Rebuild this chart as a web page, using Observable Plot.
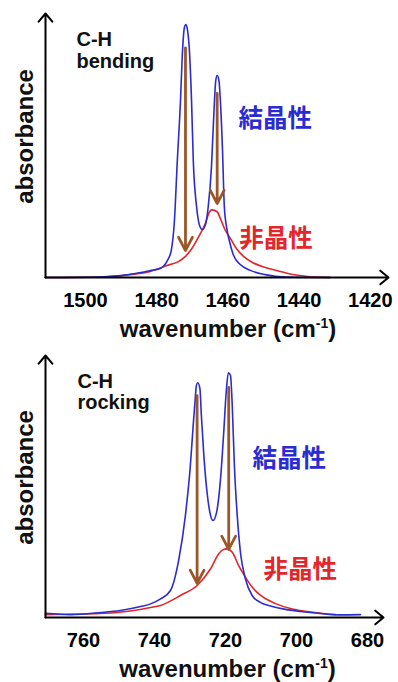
<!DOCTYPE html>
<html>
<head>
<meta charset="utf-8">
<script src="https://cdn.jsdelivr.net/npm/d3@7"></script>
<script src="https://cdn.jsdelivr.net/npm/@observablehq/plot@0.6"></script>
<style>
  html, body { margin: 0; padding: 0; background: #fff; }
  #chart { width: 398px; }
  #chart svg { display: block; }
</style>
</head>
<body>
<div id="chart"></div>
<script>
// ---------- C-H bending panel ----------
const bendTicks = [1500, 1480, 1460, 1440, 1420];
const bendDomain = [1511.2, 1414.9];
const bendCrystW = [1511.2, 1496, 1490, 1486, 1481.8, 1479, 1477, 1475.9, 1475, 1474.2, 1473.3, 1472.8, 1472.2, 1471.8, 1471.4, 1470.8, 1470.2, 1469.7, 1468.8, 1468, 1467.2, 1466.3, 1465.5, 1464.6, 1463.9, 1463.4, 1463, 1462.5, 1462.1, 1461.5, 1461, 1460.3, 1459.6, 1458.5, 1456.5, 1453.7, 1449.5, 1443.9, 1431.2];
const bendCrystA = [0, 0.2, 0.7, 1.5, 2.6, 3.4, 6.4, 10.2, 21.6, 44, 67, 84, 94.7, 95.8, 94.3, 86, 67, 44, 27, 20, 18.2, 20, 27, 42, 63, 74.6, 76.5, 74.6, 67, 48, 27, 18.6, 14, 8.7, 4.9, 2.7, 1.1, 0.2, 0];
const bendAmorW = [1511.2, 1495.8, 1487.4, 1481.8, 1477.5, 1473.9, 1471.9, 1470.5, 1467.7, 1466.3, 1465.4, 1464.5, 1463, 1462.1, 1460.7, 1459.3, 1457.6, 1455.6, 1453.1, 1449.5, 1445.8, 1442.5, 1438.2, 1431.2];
const bendAmorA = [0, 0.2, 1.1, 2.3, 4.4, 6, 8, 10.2, 16.7, 20.5, 24.2, 25.6, 24.9, 22.3, 17.8, 14.8, 11, 8, 5.7, 3.8, 2.5, 1.3, 0.5, 0];
const bendShifts = [
  {w: 1471.9, from: 87, to: 10.2},
  {w: 1463.0, from: 69.7, to: 28}
];

// ---------- C-H rocking panel ----------
const rockTicks = [760, 740, 720, 700, 680];
const rockDomain = [770.7, 675.5];
const rockCrystW = [770.7, 763.7, 755.2, 749.6, 743.9, 741.1, 738.3, 735.5, 733.2, 731.3, 729.9, 729.1, 728.6, 728.2, 727.8, 727.2, 726.8, 726.1, 725.2, 724.2, 723.5, 722.5, 721.4, 720.5, 719.8, 719.2, 718.6, 718.1, 717.5, 716.7, 715.8, 714.4, 712.5, 710.1, 707.3, 703.1, 698.9, 693.2, 687.6, 682];
const rockCrystA = [1.6, 1.1, 1.9, 2.7, 4.2, 5.2, 7.1, 10.3, 21.8, 38.9, 58, 73.3, 82.2, 88.5, 89.6, 87.3, 77.1, 61.8, 47.8, 38.9, 37, 40.2, 52.9, 70.7, 86, 93.4, 92.4, 80.9, 58, 38.9, 24.9, 14.8, 8.4, 5.7, 4.4, 3.1, 2.3, 1.5, 1, 1.1];
const rockAmorW = [770.7, 755.2, 746.8, 741.1, 738.3, 732.7, 728, 724.2, 721.9, 720.8, 719.7, 718.1, 716.3, 714.4, 712.5, 710.1, 705.9, 701.7, 696.1, 689];
const rockAmorA = [1.1, 1.5, 2.5, 3.8, 4.6, 8.4, 12.2, 18.6, 24.3, 25.8, 26.2, 24.9, 19.8, 15.4, 11.6, 8.4, 5.3, 3.4, 2.1, 1.1];
const rockShifts = [
  {w: 728.0, from: 84.7, to: 13},
  {w: 719.1, from: 87.8, to: 26}
];

const crystLabel = "結晶性";
const amorLabel = "非晶性";
const xLabel = "wavenumber (cm-1)";
const yLabel = "absorbance";

const BLUE = "#2b2bd2", RED = "#e3262b", BROWN = "#9c5728";
const LATIN = "'Liberation Sans', Arial, Helvetica, sans-serif";
const CJK = "'Noto Sans CJK JP', 'Noto Sans CJK SC', sans-serif";

function series(ws, as) { return ws.map((w, i) => ({w, a: as[i]})); }

function panel(o) {
  const dom = o.domain;
  const axes = [
    {x1: dom[0], y1: 0, x2: dom[1], y2: 0},
    {x1: dom[0], y1: 0, x2: dom[0], y2: 100}
  ];
  return Plot.plot({
    width: 398,
    height: o.height,
    marginLeft: 45,
    marginRight: o.marginRight,
    marginTop: o.marginTop,
    marginBottom: o.marginBottom,
    style: {fontFamily: LATIN, background: "#fff", color: "#000", overflow: "visible"},
    x: {domain: dom, label: null},
    y: {domain: [0, 100], axis: null},
    marks: [
      Plot.axisX({ticks: o.ticks, tickSize: 0, tickPadding: 15, fontSize: 20, fontWeight: "bold",
                  tickFormat: d => String(d), label: null, stroke: "none"}),
      Plot.line(series(o.amorW, o.amorA), {x: "w", y: "a", stroke: RED, strokeWidth: 1.6, curve: "monotone-x"}),
      Plot.line(series(o.crystW, o.crystA), {x: "w", y: "a", stroke: BLUE, strokeWidth: 1.6, curve: "monotone-x"}),
      Plot.arrow(o.shifts, {x1: "w", x2: "w", y1: "from", y2: "to", stroke: BROWN, strokeWidth: 2.8,
                            headLength: 8, headAngle: 55}),
      Plot.arrow(axes, {x1: "x1", y1: "y1", x2: "x2", y2: "y2", stroke: "#000", strokeWidth: 2,
                        headLength: 8, headAngle: 80}),
      Plot.text([o.title], {x: o.titleX, y: o.titleY, textAnchor: "start", lineAnchor: "top",
                            lineHeight: o.titleLH, fontSize: 20, fontWeight: "bold", fill: "#111"}),
      Plot.text([crystLabel], {x: o.crystX, y: o.crystY, textAnchor: "start", lineAnchor: "middle", fontSize: 24.5,
                               fontFamily: CJK, fontWeight: "bold", fill: BLUE}),
      Plot.text([amorLabel], {x: o.amorX, y: o.amorY, textAnchor: "start", lineAnchor: "middle", fontSize: 24.5,
                              fontFamily: CJK, fontWeight: "bold", fill: RED}),
      Plot.text([yLabel], {frameAnchor: "left", textAnchor: "middle", lineAnchor: "middle",
                           dx: -20, dy: -9, rotate: -90, fontSize: 24, fontWeight: "bold", fill: "#111"}),
      Plot.text([xLabel], {frameAnchor: "bottom", textAnchor: "middle", lineAnchor: "middle",
                           dx: o.xLabelDx, dy: 51.5, fontSize: 24, fontWeight: "bold", fill: "#111"})
    ]
  });
}

const bendPlot = panel({
  height: 340, marginTop: 13, marginBottom: 63, marginRight: 10,
  domain: bendDomain, ticks: bendTicks,
  crystW: bendCrystW, crystA: bendCrystA, amorW: bendAmorW, amorA: bendAmorA, shifts: bendShifts,
  title: "C-H\nbending", titleX: 1502.5, titleY: 93.6, titleLH: 1.1,
  crystX: 1457.0, crystY: 60.0, amorX: 1456.8, amorY: 14.6, xLabelDx: 11
});
const rockPlot = panel({
  height: 342, marginTop: 15, marginBottom: 65, marginRight: 15,
  domain: rockDomain, ticks: rockTicks,
  crystW: rockCrystW, crystA: rockCrystA, amorW: rockAmorW, amorA: rockAmorA, shifts: rockShifts,
  title: "C-H\nrocking", titleX: 761.7, titleY: 93.1, titleLH: 1.05,
  crystX: 712.4, crystY: 60.5, amorX: 709.3, amorY: 18.1, xLabelDx: 13
});

const chart = document.getElementById("chart");
chart.append(bendPlot, rockPlot);

// superscript "-1" in the axis label
const NS = "http://www.w3.org/2000/svg";
chart.querySelectorAll("text").forEach(t => {
  if (t.textContent === xLabel) {
    t.textContent = "";
    const a = document.createElementNS(NS, "tspan"); a.textContent = "wavenumber (cm";
    const s = document.createElementNS(NS, "tspan"); s.textContent = "-1";
    s.setAttribute("font-size", "14"); s.setAttribute("dy", "-9");
    const c = document.createElementNS(NS, "tspan"); c.textContent = ")";
    c.setAttribute("dy", "9");
    t.append(a, s, c);
  }
});
</script>
</body>
</html>
